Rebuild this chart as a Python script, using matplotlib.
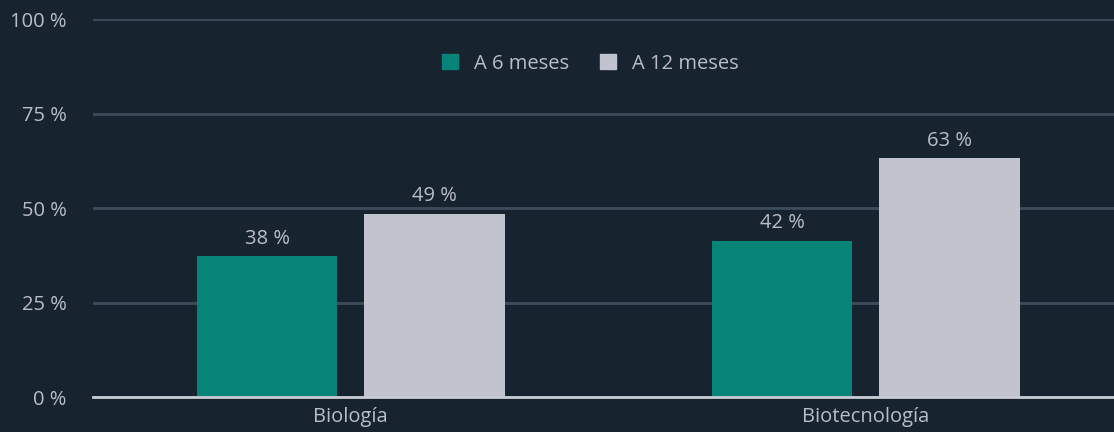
import matplotlib.pyplot as plt
import numpy as np
from matplotlib.patches import Patch

# Data
categories = ['Biología', 'Biotecnología']
series = ['A 6 meses', 'A 12 meses']
six_months = [37.2, 41.3]
twelve_months = [48.4, 63.2]
six_labels = ['38 %', '42 %']
twelve_labels = ['49 %', '63 %']
yticks = [0, 25, 50, 75, 100]

bg = '#17232f'
teal = '#078478'
grey = '#c1c4ce'
txt = '#b9bdc7'
grid_col = '#3e4b5a'

plt.rcParams['font.family'] = ['Open Sans', 'DejaVu Sans']
fs = 14.5

fig = plt.figure(figsize=(11.14, 4.32), dpi=100, facecolor=bg)
ax = fig.add_axes([0.0835, 0.081, 0.9165, 0.875], facecolor=bg)

x = np.arange(len(categories))
w = 0.273
b1 = ax.bar(x - 0.162, six_months, w, color=teal, zorder=3)
b2 = ax.bar(x + 0.163, twelve_months, w, color=grey, zorder=3)

for bars, labels in [(b1, six_labels), (b2, twelve_labels)]:
    for bar, lab in zip(bars, labels):
        ax.text(bar.get_x() + bar.get_width() / 2, bar.get_height() + 2.0, lab,
                ha='center', va='bottom', color=txt, fontsize=fs)

ax.set_xlim(-0.5, 1.4825)
ax.set_ylim(0, 100)
ax.set_yticks(yticks)
ax.set_yticklabels([f'{t} %' for t in yticks])
ax.set_xticks(x)
ax.set_xticklabels(categories)
ax.tick_params(axis='both', length=0, colors=txt, labelsize=fs)
ax.tick_params(axis='y', pad=19)
ax.tick_params(axis='x', pad=7)

ax.yaxis.grid(True, color=grid_col, linewidth=2, zorder=0)
for s in ['top', 'right', 'left']:
    ax.spines[s].set_visible(False)
ax.spines['bottom'].set_color('#c8ccd4')
ax.spines['bottom'].set_linewidth(2)
ax.spines['bottom'].set_zorder(4)

handles = [Patch(color=teal), Patch(color=grey)]
leg = fig.legend(handles, series, loc='center', bbox_to_anchor=(0.53, 0.853), ncol=2,
                 frameon=False, fontsize=fs, labelcolor=txt, handlelength=0.8,
                 handleheight=0.8, handletextpad=0.8, columnspacing=1.5)

fig.savefig('out.png', dpi=100, facecolor=bg)
